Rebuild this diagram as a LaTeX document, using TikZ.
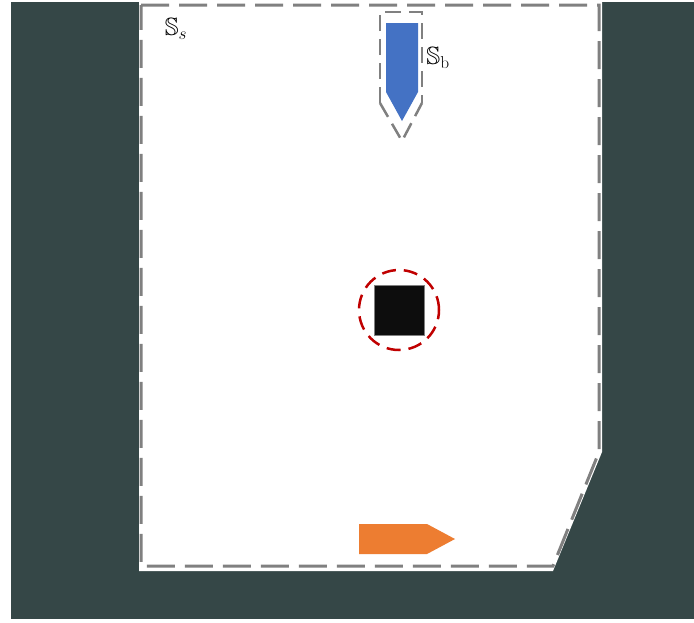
\documentclass[tikz,border=0pt]{standalone}
\usepackage{amssymb}
\usepackage{tikz}
\usetikzlibrary{shapes.geometric}
\definecolor{pizarra}{HTML}{354747}
\definecolor{mazul}{HTML}{4472C4}
\definecolor{mnaranja}{HTML}{ED7D31}
\definecolor{mgris}{HTML}{808080}
\definecolor{mrojo}{HTML}{C00000}
\definecolor{mnegro}{HTML}{0D0D0D}
\begin{document}
\begin{tikzpicture}[x=1pt,y=-1pt,
borde/.style={draw=mgris,line width=3pt,dash pattern=on 28pt off 10pt},
bordechico/.style={draw=mgris,line width=2.5pt,dash pattern=on 16pt off 8pt},
bloque/.style={rectangle,fill=mnegro,draw=mgris,line width=0.6pt,minimum size=50pt,inner sep=0pt},
zona/.style={circle,draw=mrojo,line width=2.5pt,dash pattern=on 14pt off 8pt,minimum size=80pt,inner sep=0pt},
etiqueta/.style={font=\fontsize{25}{30}\selectfont,inner sep=0pt}]
\useasboundingbox (0,0) rectangle (694,622);

\fill[pizarra] (11,2) rectangle (694,619);
\fill[white] (139,2)--(602,2)--(602,452)--(553,571)--(139,571)--cycle;
\draw[borde] (141,5)--(599,5)--(599,452)--(553,566)--(141,566)--cycle;

\fill[mazul] (386,23)--(418,23)--(418,92)--(402,121)--(386,92)--cycle;
\draw[bordechico] (380,103)--(380,12)--(422,12)--(422,103);
\draw[bordechico] (380,103)--(402,141)--(422,103);

\node[zona] (obs) at (399,310) {};
\node[bloque] (caja) at (399,310) {};

\fill[mnaranja] (359,524)--(427,524)--(455,539)--(427,554)--(359,554)--cycle;

\node[etiqueta] (Ss) at (176,29) {$\mathbb{S}_s$};
\node[etiqueta] (Sb) at (438,58) {$\mathbb{S}_\mathrm{b}$};
\end{tikzpicture}
\end{document}
